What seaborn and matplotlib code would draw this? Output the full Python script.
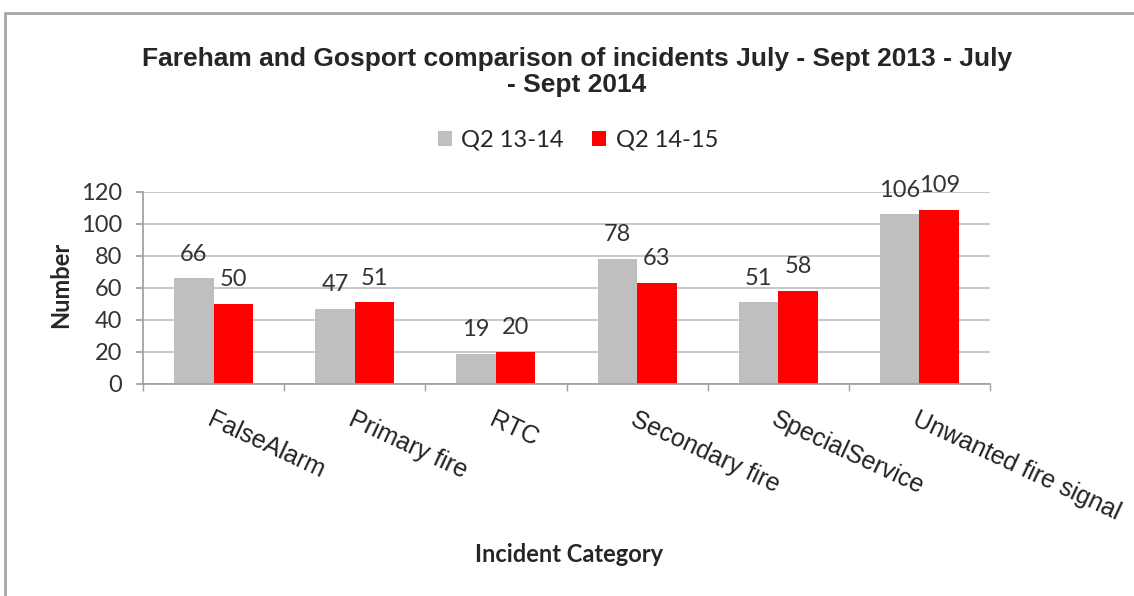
import matplotlib
matplotlib.use("Agg")
import matplotlib.pyplot as plt
import seaborn as sns
import pandas as pd
from matplotlib.patches import Rectangle, Patch

categories = ["FalseAlarm", "Primary fire", "RTC", "Secondary fire", "SpecialService", "Unwanted fire signal"]
series_names = ["Q2 13-14", "Q2 14-15"]
q2_1314 = [66, 47, 19, 78, 51, 106]
q2_1415 = [50, 51, 20, 63, 58, 109]
colors = ["#BFBFBF", "#FF0000"]
y_ticks = [0, 20, 40, 60, 80, 100, 120]

df = pd.DataFrame({
    "Category": categories * 2,
    "Series": [series_names[0]] * len(categories) + [series_names[1]] * len(categories),
    "Value": q2_1314 + q2_1415,
})

sns.set_theme(style="white")
plt.rcParams['font.family'] = ['Lato', 'DejaVu Sans']

fig = plt.figure(figsize=(11.34, 5.96), dpi=100)
ax = fig.add_axes([143/1134, 1 - 384/596, (990-143)/1134, (384-192)/596])

sns.barplot(data=df, x="Category", y="Value", hue="Series", palette=colors,
            width=0.56, ax=ax, legend=False, saturation=1, edgecolor="none")

ax.set_ylim(0, 120)
ax.set_xlim(-0.5, len(categories) - 0.5)
ax.set_yticks(y_ticks)
ax.set_yticklabels([str(t) for t in y_ticks], fontsize=17, color="#333333")
ax.yaxis.grid(True, color="#BFBFBF", linewidth=1.2)
ax.set_axisbelow(True)
for s in ["top", "right"]:
    ax.spines[s].set_visible(False)
ax.spines["left"].set_color("#A0A0A0")
ax.spines["bottom"].set_color("#A0A0A0")
ax.tick_params(axis="y", length=5, color="#A0A0A0", direction="out", pad=10, left=True)

# category tick labels rotated
ax.set_xticks(range(len(categories)))
ax.set_xticklabels(categories, rotation=-25, ha="left", va="top",
                   rotation_mode="anchor", fontsize=18, color="#222222",
                   family=["Liberation Sans", "DejaVu Sans"])
ax.tick_params(axis="x", length=0, pad=17)
ax.set_xticks([i - 0.5 for i in range(len(categories) + 1)], minor=True)
ax.tick_params(axis="x", which="minor", length=5, color="#A0A0A0", direction="out")
ax.xaxis.set_tick_params(which="minor", bottom=True)

for cont in ax.containers:
    for bar in cont:
        h = bar.get_height()
        ax.annotate(f"{int(h)}", (bar.get_x() + bar.get_width() / 2, h),
                    xytext=(0, 10), textcoords="offset points",
                    ha="center", va="bottom", fontsize=17, color="#333333")

ax.set_xlabel("")
ax.set_ylabel("")
fig.text(61/1134, 1 - 285/596, "Number", ha="center", va="center", rotation=90,
         fontsize=17, fontweight="bold")
fig.text(569/1134, 1 - 555/596, "Incident Category", ha="center", va="center",
         fontsize=17, fontweight="bold")

fig.text(577/1134, 1 - 72/596,
         "Fareham and Gosport comparison of incidents July - Sept 2013 - July\n- Sept 2014",
         ha="center", va="center", fontsize=19, fontweight="bold",
         family=["Liberation Sans", "DejaVu Sans"], linespacing=1.1)

handles = [Patch(facecolor=c, edgecolor="none") for c in colors]
fig.legend(handles, series_names, loc="center", bbox_to_anchor=(578/1134, 1 - 140/596),
           ncol=2, frameon=False, fontsize=17, handlelength=0.6, handleheight=0.6,
           columnspacing=1.2, handletextpad=0.4)

fig.patches.append(Rectangle((5/1134, -0.05), 1.1, 1 - 13/596 + 0.05,
                             transform=fig.transFigure, fill=False,
                             edgecolor="#A6A6A6", linewidth=2))

fig.savefig("out.png", dpi=100)
